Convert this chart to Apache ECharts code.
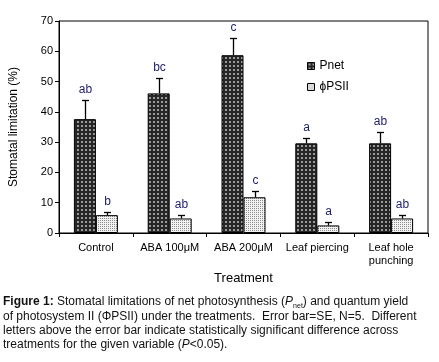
<!DOCTYPE html>
<html>
<head>
<meta charset="utf-8">
<script src="https://cdn.jsdelivr.net/npm/echarts@6/dist/echarts.min.js"></script>
<style>
  html, body { margin: 0; padding: 0; background: #fff; }
  #chart { width: 439px; height: 362px; }
</style>
</head>
<body>
<div id="chart"></div>
<script>
const categories = ['Control', 'ABA 100μM', 'ABA 200μM', 'Leaf piercing', 'Leaf hole\npunching']
const pnetValues = [37.6, 46.1, 58.7, 29.6, 29.6]
const pnetErrors = [6.2, 5.0, 5.8, 1.7, 3.8]
const pnetLetters = ['ab', 'bc', 'c', 'a', 'ab']
const psiiValues = [5.9, 4.8, 11.8, 2.5, 4.8]
const psiiErrors = [0.9, 1.0, 2.0, 1.0, 1.0]
const psiiLetters = ['b', 'ab', 'c', 'a', 'ab']
const yTicks = [0, 10, 20, 30, 40, 50, 60, 70]

const FONT = '"Liberation Sans", Arial, sans-serif'
const BAR_W = 22

// hatch fills like the excel patterns
function makePattern(bg, fg, size, dots) {
  const c = document.createElement('canvas')
  c.width = size
  c.height = size
  const ctx = c.getContext('2d')
  ctx.fillStyle = bg
  ctx.fillRect(0, 0, size, size)
  ctx.fillStyle = fg
  dots.forEach(d => ctx.fillRect(d[0], d[1], d[2], d[3]))
  return { image: c, repeat: 'repeat' }
}
const pnetFill = makePattern('#262626', '#9a9a9a', 4, [[1, 1, 2, 2]])
const psiiFill = makePattern('#f2f2f2', '#8c8c8c', 2, [[0, 0, 1, 1]])

function errorSeries(name, values, errs, letters, offset) {
  return {
    type: 'custom',
    name: name,
    z: 10,
    silent: true,
    data: values.map((v, i) => [i, v, errs[i]]),
    renderItem(params, api) {
      const i = api.value(0)
      const v = api.value(1)
      const e = api.value(2)
      const base = api.coord([i, v])
      const top = api.coord([i, v + e])
      const x = Math.round(base[0] + offset) + 0.5
      const ty = Math.round(top[1]) + 0.5
      const st = { stroke: '#000', lineWidth: 1.3 }
      return {
        type: 'group',
        children: [
          { type: 'line', shape: { x1: x, y1: base[1], x2: x, y2: ty }, style: st },
          { type: 'line', shape: { x1: x - 3.5, y1: ty, x2: x + 3.5, y2: ty }, style: st },
          {
            type: 'text', x: x, y: ty - 5,
            style: {
              text: letters[i], textAlign: 'center', textVerticalAlign: 'bottom',
              fill: '#1c1c6a', font: '12px ' + FONT
            }
          }
        ]
      }
    }
  }
}

const capN = { fontSize: 12, fontFamily: FONT, fill: '#111', lineHeight: 15 }

const chart = echarts.init(document.getElementById('chart'))
chart.setOption({
  animation: false,
  textStyle: { fontFamily: FONT },
  grid: {
    left: 57, top: 21, right: 11, bottom: 129,
    show: true, borderColor: '#000', borderWidth: 1
  },
  legend: {
    orient: 'vertical',
    left: 302, top: 55,
    itemWidth: 7, itemHeight: 7, itemGap: 9,
    icon: 'rect',
    textStyle: { fontSize: 12, color: '#000', fontFamily: FONT },
    data: [
      { name: 'Pnet', itemStyle: { borderColor: '#000', borderWidth: 1 } },
      { name: 'ϕPSII', itemStyle: { borderColor: '#000', borderWidth: 1 } }
    ]
  },
  xAxis: {
    type: 'category',
    data: categories,
    name: 'Treatment',
    nameLocation: 'middle',
    nameGap: 38,
    nameTextStyle: { fontSize: 13, color: '#000' },
    axisLine: { lineStyle: { color: '#000', width: 1 } },
    axisTick: { show: true, alignWithLabel: false, length: 4, lineStyle: { color: '#000' } },
    axisLabel: { color: '#000', fontSize: 11, margin: 8, lineHeight: 13, interval: 0 }
  },
  yAxis: {
    type: 'value',
    min: 0, max: 70, interval: 10,
    name: 'Stomatal limitation (%)',
    nameLocation: 'middle',
    nameGap: 39,
    nameTextStyle: { fontSize: 12, color: '#000' },
    axisLine: { show: true, lineStyle: { color: '#000', width: 1 } },
    axisTick: { show: true, length: 4, lineStyle: { color: '#000' } },
    axisLabel: {
      color: '#000', fontSize: 11, margin: 6,
      formatter: v => yTicks.includes(v) ? String(v) : ''
    },
    splitLine: { show: false }
  },
  series: [
    {
      name: 'Pnet', type: 'bar', barWidth: BAR_W, barGap: '0%',
      itemStyle: { color: pnetFill, borderColor: '#000', borderWidth: 1 },
      data: pnetValues
    },
    {
      name: 'ϕPSII', type: 'bar', barWidth: BAR_W, barGap: '0%',
      itemStyle: { color: psiiFill, borderColor: '#000', borderWidth: 1 },
      data: psiiValues
    },
    errorSeries('Pnet err', pnetValues, pnetErrors, pnetLetters, -BAR_W / 2),
    errorSeries('ϕPSII err', psiiValues, psiiErrors, psiiLetters, BAR_W / 2)
  ],
  graphic: [
    {
      type: 'text', left: 3, top: 296,
      style: {
        text: '{b|Figure 1:}{n| Stomatal limitations of net photosynthesis (}{i|P}{s|net}{n|) and quantum yield}',
        rich: {
          b: Object.assign({}, capN, { fontWeight: 'bold' }),
          n: capN,
          i: Object.assign({}, capN, { fontStyle: 'italic' }),
          s: { fontSize: 7, fontFamily: FONT, fill: '#111', lineHeight: 15, verticalAlign: 'bottom' }
        }
      }
    },
    {
      type: 'text', left: 3, top: 311,
      style: {
        text: 'of photosystem II (ΦPSII) under the treatments.  Error bar=SE, N=5.  Different',
        font: '12px ' + FONT, fill: '#111'
      }
    },
    {
      type: 'text', left: 3, top: 325,
      style: {
        text: 'letters above the error bar indicate statistically significant difference across',
        font: '12px ' + FONT, fill: '#111'
      }
    },
    {
      type: 'text', left: 3, top: 339,
      style: {
        text: '{n|treatments for the given variable (}{i|P}{n|<0.05).}',
        rich: {
          n: capN,
          i: Object.assign({}, capN, { fontStyle: 'italic' })
        }
      }
    }
  ]
})
</script>
</body>
</html>
